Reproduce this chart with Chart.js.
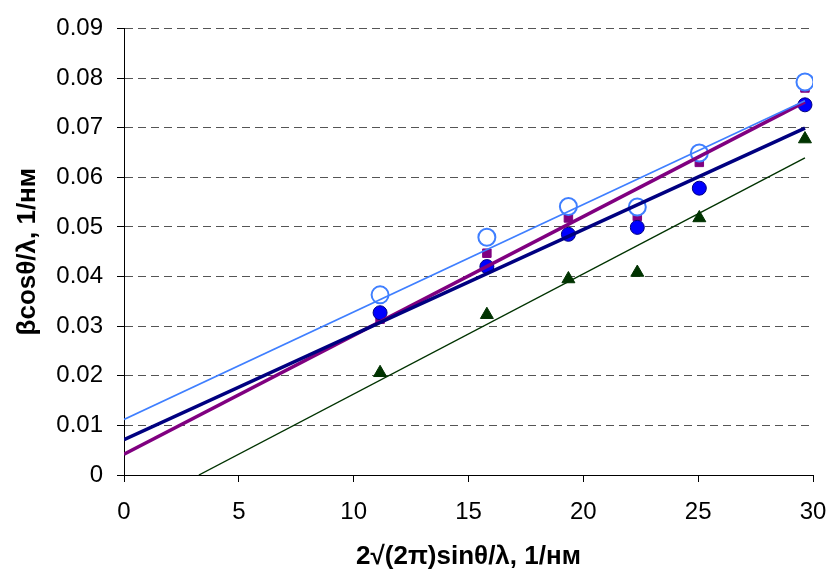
<!DOCTYPE html>
<html>
<head>
<meta charset="utf-8">
<script src="https://cdn.jsdelivr.net/npm/chart.js@4.4.0/dist/chart.umd.min.js"></script>
<style>
  html, body { margin: 0; padding: 0; background: #fff; }
  #wrap { width: 829px; height: 575px; position: relative; }
</style>
</head>
<body>
<div id="wrap"><canvas id="chart"></canvas></div>
<script>
// Measured points (x = 2√(2π)sinθ/λ, y = βcosθ/λ)
const xValues = [11.15, 15.8, 19.35, 22.35, 25.05, 29.65];
const openCircleY = [0.0363, 0.0479, 0.0541, 0.0540, 0.0649, 0.0792];
const blueCircleY = [0.0327, 0.0420, 0.0485, 0.0499, 0.0578, 0.0746];
const purpleSquareY = [0.0314, 0.0447, 0.0518, 0.0521, 0.0630, 0.0780];
const greenTriangleY = [0.0206, 0.0323, 0.0395, 0.0408, 0.0518, 0.0677];

// Trend lines, read as start / end points
const lightBlueFitX = [0, 29.65];
const lightBlueFitY = [0.0112, 0.0754];
const navyFitX = [0, 29.65];
const navyFitY = [0.0071, 0.0699];
const purpleFitX = [0, 29.65];
const purpleFitY = [0.0042, 0.0752];
const greenFitX = [3.26, 29.65];
const greenFitY = [0, 0.0639];

const xTicks = [0, 5, 10, 15, 20, 25, 30];
const yTicks = [0, 0.01, 0.02, 0.03, 0.04, 0.05, 0.06, 0.07, 0.08, 0.09];

const FONT = "'Liberation Sans', Arial, sans-serif";

function pts(xs, ys) {
    return xs.map((x, i) => ({ x: x, y: ys[i] }));
}

function fitLine(xs, ys, color, width) {
    return {
        data: pts(xs, ys),
        showLine: true,
        borderColor: color,
        borderWidth: width,
        pointRadius: 0,
        fill: false,
        order: 0
    };
}

new Chart(document.getElementById('chart'), {
    type: 'scatter',
    data: {
        datasets: [
            fitLine(lightBlueFitX, lightBlueFitY, '#3F7FFF', 1.6),
            fitLine(navyFitX, navyFitY, '#000080', 3.5),
            fitLine(purpleFitX, purpleFitY, '#800080', 3.5),
            fitLine(greenFitX, greenFitY, '#003300', 1.4),
            {
                data: pts(xValues, openCircleY),
                pointStyle: 'circle',
                pointRadius: 8.5,
                backgroundColor: '#ffffff',
                borderColor: '#3F7FFF',
                borderWidth: 2,
                order: 1
            },
            {
                data: pts(xValues, blueCircleY),
                pointStyle: 'circle',
                pointRadius: 7,
                backgroundColor: '#0000FF',
                borderColor: '#000080',
                borderWidth: 1,
                order: 2
            },
            {
                data: pts(xValues, greenTriangleY),
                pointStyle: 'triangle',
                pointRadius: 7.5,
                backgroundColor: '#003300',
                borderColor: '#003300',
                borderWidth: 1,
                order: 3
            },
            {
                data: pts(xValues, purpleSquareY),
                pointStyle: 'rect',
                pointRadius: 6,
                backgroundColor: '#800080',
                borderColor: '#800080',
                borderWidth: 1,
                order: 4
            }
        ]
    },
    options: {
        responsive: true,
        maintainAspectRatio: false,
        animation: false,
        layout: {
            padding: { left: 0, right: 16, top: 22, bottom: 1 }
        },
        plugins: {
            legend: { display: false },
            tooltip: { enabled: false }
        },
        scales: {
            x: {
                type: 'linear',
                min: 0,
                max: 30,
                afterBuildTicks: (scale) => {
                    scale.ticks = xTicks.map(v => ({ value: v }));
                },
                afterFit: (scale) => {
                    scale.height = 99;
                    scale.paddingLeft = 0;
                    scale.paddingRight = 0;
                },
                ticks: {
                    color: '#000',
                    padding: 16,
                    font: { family: FONT, size: 24 },
                    callback: (v) => String(v)
                },
                grid: {
                    drawOnChartArea: false,
                    drawTicks: true,
                    tickLength: 7,
                    tickColor: '#000'
                },
                border: { color: '#000', width: 1 },
                title: {
                    display: true,
                    text: '2\u221A(2\u03C0)sin\u03B8/\u03BB, 1/\u043D\u043C',
                    color: '#000',
                    font: { family: FONT, size: 26, weight: 'bold' },
                    padding: { top: 0, bottom: 2 }
                }
            },
            y: {
                type: 'linear',
                min: 0,
                max: 0.09,
                afterBuildTicks: (scale) => {
                    scale.ticks = yTicks.map(v => ({ value: v }));
                },
                afterFit: (scale) => {
                    scale.width = 124;
                },
                ticks: {
                    color: '#000',
                    padding: 14,
                    font: { family: FONT, size: 24 },
                    callback: (v) => v === 0 ? '0' : v.toFixed(2)
                },
                grid: {
                    drawOnChartArea: true,
                    drawTicks: true,
                    tickLength: 7,
                    color: '#555555',
                    tickColor: '#000',
                    lineWidth: 1
                },
                border: { color: '#000', width: 1, dash: [8, 5] },
                title: {
                    display: true,
                    text: '\u03B2cos\u03B8/\u03BB, 1/\u043D\u043C',
                    color: '#000',
                    font: { family: FONT, size: 26, weight: 'bold' },
                    padding: { top: 12, bottom: 0 }
                }
            }
        }
    }
});
</script>
</body>
</html>
